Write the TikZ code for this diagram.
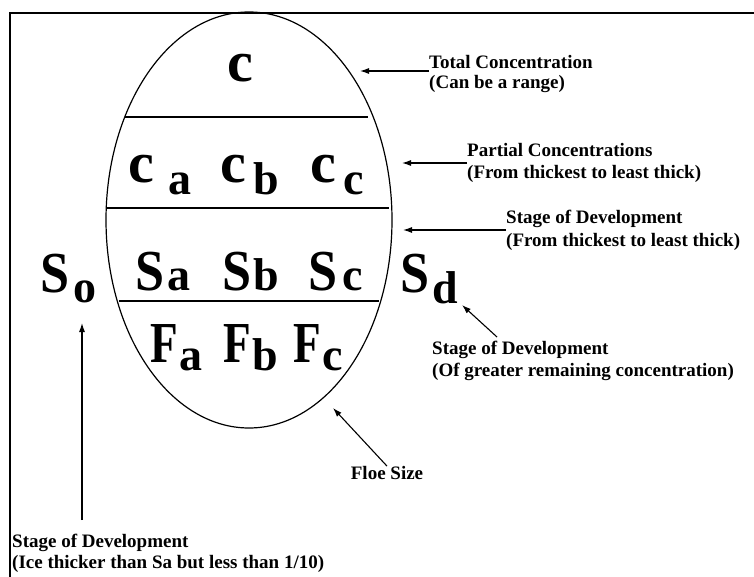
\documentclass[tikz,border=0pt]{standalone}
\usepackage{fontspec}
\usepackage{graphicx}
\setmainfont{Liberation Serif}
\usetikzlibrary{arrows.meta,shapes.geometric}
\newcommand\CondLet[1]{\scalebox{0.9}[1]{#1}}
\newcommand\CondF[1]{\scalebox{0.78}[1]{#1}}
\begin{document}
\begin{tikzpicture}[x=1pt,y=-1pt,
  lbl/.style={font=\fontsize{19}{21}\selectfont\bfseries, inner sep=0pt, align=left, anchor=north west},
  bigl/.style={font=\fontsize{58}{58}\selectfont\bfseries, inner sep=0pt, anchor=base west},
  subl/.style={font=\fontsize{46}{46}\selectfont\bfseries, inner sep=0pt, anchor=base west},
  arr/.style={-{Latex[length=9pt,width=6pt]}, line width=1.1pt},
  divline/.style={line width=1.5pt},
  frame/.style={line width=1.4pt}]
\useasboundingbox (0,0) rectangle (754,577);
% frame
\draw[frame] (10,577) -- (10,13) -- (754,13);
% ellipse
\node[draw, ellipse, minimum width=286pt, minimum height=416pt, inner sep=0pt, line width=1.2pt] (ell) at (249,220) {};
\draw[divline] (125,117) -- (368,117);
\draw[divline] (107,208) -- (389,208);
\draw[divline] (119,301) -- (379,301);
% big letters
\node[bigl] (c0) at (227,82) {c};
\node[bigl] (ca) at (128,183) {c};
\node[subl] (caS) at (168,195) {a};
\node[bigl] (cb) at (220,183) {c};
\node[subl] (cbS) at (253,195) {b};
\node[bigl] (cc) at (310,183) {c};
\node[subl] (ccS) at (343,195) {c};
\node[bigl] (sa) at (135,290) {\CondLet{S}};
\node[subl] (saS) at (167,290) {a};
\node[bigl] (sb) at (222,290) {\CondLet{S}};
\node[subl] (sbS) at (253,290) {b};
\node[bigl] (sc) at (308,290) {\CondLet{S}};
\node[subl] (scS) at (342,290) {c};
\node[bigl] (so) at (40,292) {\CondLet{S}};
\node[subl] (soS) at (73,302) {o};
\node[bigl] (sd) at (400,292) {\CondLet{S}};
\node[subl] (sdS) at (432,303) {d};
\node[bigl] (fa) at (150,362) {\CondF{F}};
\node[subl] (faS) at (179,370) {a};
\node[bigl] (fb) at (223,362) {\CondF{F}};
\node[subl] (fbS) at (252,370) {b};
\node[bigl] (fc) at (293,362) {\CondF{F}};
\node[subl] (fcS) at (322,370) {c};
% labels
\node[lbl, font=\fontsize{19}{20}\selectfont\bfseries] (tc) at (429,55) {Total Concentration\\(Can be a range)};
\node[lbl, font=\fontsize{19}{22}\selectfont\bfseries] (pc) at (467,143) {Partial Concentrations\\(From thickest to least thick)};
\node[lbl, font=\fontsize{19}{23}\selectfont\bfseries] (st) at (506,210) {Stage of Development\\(From thickest to least thick)};
\node[lbl, font=\fontsize{19}{22}\selectfont\bfseries] (sdl) at (432,341) {Stage of Development\\(Of greater remaining concentration)};
\node[lbl, anchor=center] (floe) at (387,473) {Floe Size};
\node[lbl, font=\fontsize{19}{21}\selectfont\bfseries] (sol) at (12,534) {Stage of Development\\(Ice thicker than Sa but less than 1/10)};
% connectors
\coordinate (tcTip) at (360,71);
\coordinate (pcTip) at (402,163);
\coordinate (stTip) at (403,230);
\coordinate (sdTail) at (497,337);
\coordinate (sdTip) at (462,305);
\coordinate (floeTip) at (333,408);
\coordinate (soTail) at (82,520);
\coordinate (soTip) at (82,323);
\draw[arr] (tc.west |- tcTip) -- (tcTip);
\draw[arr] (pc.west |- pcTip) -- (pcTip);
\draw[arr] (st.west |- stTip) -- (stTip);
\draw[arr] (sdTail) -- (sdTip);
\draw[arr] (floe.north) -- (floeTip);
\draw[arr] (soTail) -- (soTip);
\end{tikzpicture}
\end{document}
